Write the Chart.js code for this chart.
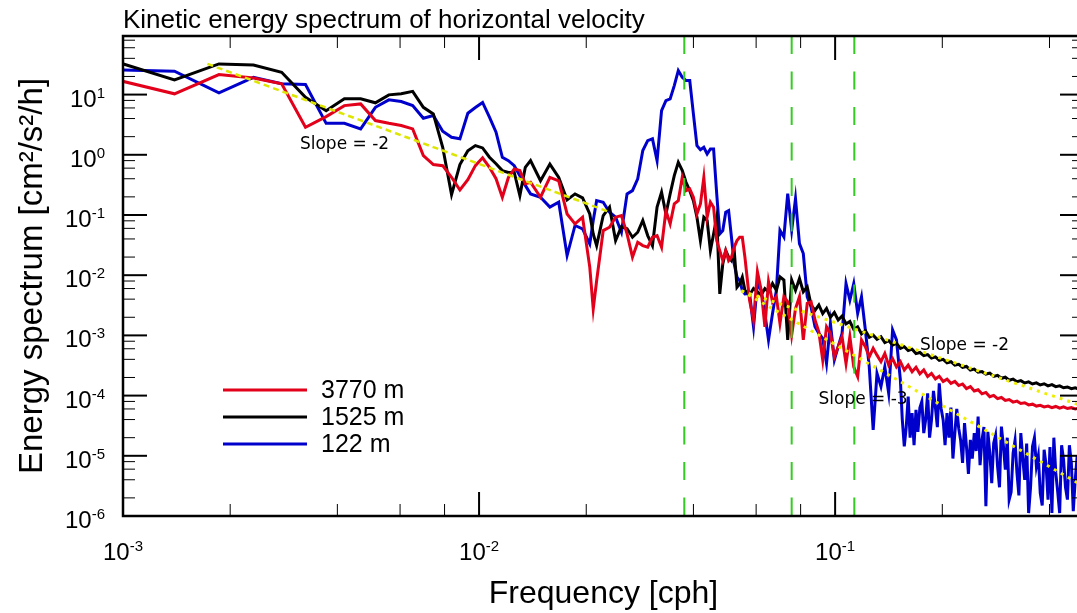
<!DOCTYPE html>
<html>
<head>
<meta charset="utf-8">
<title>Kinetic energy spectrum of horizontal velocity</title>
<script src="https://cdn.jsdelivr.net/npm/chart.js@4.4.1/dist/chart.umd.min.js"></script>
<style>
  html, body { margin: 0; padding: 0; background: #fff; overflow: hidden; }
  #wrap { width: 1090px; height: 613px; }
</style>
</head>
<body>
<div id="wrap"><canvas id="spectrum" width="1090" height="613"></canvas></div>
<script>
"use strict";

// frequency of each spectral estimate [cph]
var freq = [
    0.00093, 0.001395, 0.00186, 0.002325, 0.00279, 0.003255, 0.00372, 0.004185, 0.00465, 0.005115,
    0.00558, 0.006045, 0.00651, 0.006975, 0.00744, 0.007905, 0.00837, 0.008835, 0.0093, 0.009765,
    0.01023, 0.010695, 0.01116, 0.011625, 0.01209, 0.012555, 0.01302, 0.013485, 0.01395,
    0.01488, 0.01581, 0.01674, 0.01767, 0.0186, 0.01953, 0.02046, 0.020925,
    0.02139, 0.02232, 0.02325, 0.02418, 0.02511, 0.02604, 0.02697, 0.0279, 0.02883, 0.02976,
    0.03069, 0.03162, 0.03255, 0.03348, 0.03441, 0.03534, 0.03627, 0.0372, 0.03813, 0.03906,
    0.03999, 0.04092, 0.04185, 0.04278, 0.04371, 0.04464, 0.04557, 0.0465, 0.04743, 0.04836,
    0.04929, 0.05022, 0.05115, 0.05208, 0.05301, 0.05394, 0.05487, 0.0558,
    0.0575, 0.059, 0.0605, 0.062, 0.0635, 0.065, 0.0667, 0.0684, 0.07, 0.0718,
    0.0736, 0.0755, 0.0774, 0.0794, 0.0814, 0.0835, 0.0856, 0.0878, 0.09, 0.0923,
    0.0946, 0.097, 0.0995, 0.102, 0.1046, 0.1073, 0.11, 0.1128, 0.1157, 0.1186,
    0.1216, 0.1247, 0.1279, 0.1311, 0.1345, 0.1379, 0.1414, 0.145, 0.1487, 0.1525,
    0.1564, 0.1604, 0.1645, 0.1687, 0.173, 0.1774, 0.1819, 0.1865, 0.1913, 0.1961,
    0.2011, 0.2062, 0.2115, 0.2169, 0.2224, 0.228, 0.2338, 0.2398, 0.2459, 0.2521,
    0.2585, 0.2651, 0.2719, 0.2788, 0.2859, 0.2931, 0.3006, 0.3082, 0.3161, 0.3241,
    0.3323, 0.3408, 0.3495, 0.3584, 0.3675, 0.3768, 0.3864, 0.3962, 0.4063, 0.4166,
    0.4272, 0.4381, 0.4492, 0.4607, 0.4724, 0.4844, 0.4967
];

// spectra [cm2/s2/h] at 3770 m, 1525 m and 122 m
var spec3770 = [
    18.4, 10.3, 21.5, 18.9, 15.1, 2.86, 4.31, 6.56, 7.0, 3.70,
    3.33, 3.06, 2.69, 0.97, 0.687, 0.66, 0.423, 0.26, 0.387, 0.66,
    0.89, 0.62, 0.40, 0.197, 0.42, 0.58, 0.55, 0.33, 0.35,
    0.197, 0.42, 0.37, 0.104, 0.071, 0.092, 0.0136, 0.00275,
    0.0081, 0.0551, 0.0626, 0.092, 0.098, 0.0485, 0.0199, 0.0353, 0.031, 0.0291,
    0.0427, 0.0455, 0.0291, 0.118, 0.071, 0.153, 0.173, 0.42, 0.254, 0.27,
    0.197, 0.104, 0.153, 0.42, 0.092, 0.163, 0.135, 0.0376, 0.0256, 0.0175,
    0.0256, 0.0175, 0.0199, 0.0291, 0.0376, 0.0427, 0.0427, 0.02,
    3.85e-3, 1.8e-3, 1.14e-2, 5.6e-3, 1.39e-3, 7.8e-3, 3.6e-3, 4.4e-3, 1.58e-3, 4.4e-3,
    3.6e-3, 1.01e-3, 2.8e-3, 4.4e-3, 8.4e-4, 3.4e-3, 3.6e-3, 1.8e-3, 1.15e-3, 3.9e-4,
    1.39e-3, 1.08e-3, 4.4e-4, 6.5e-4, 9.5e-4, 3.4e-4, 9.5e-4, 3.0e-4, 2.07e-4, 8.4e-4,
    6.5e-4, 4.4e-4, 6.1e-4, 4.7e-4, 3.66e-4, 5.0e-4, 3.2e-4, 4.1e-4, 3.0e-4, 3.66e-4,
    2.66e-4, 3.2e-4, 2.5e-4, 2.95e-4, 2.3e-4, 2.66e-4, 2.07e-4, 2.34e-4, 1.9e-4, 2.1e-4,
    1.72e-4, 1.88e-4, 1.6e-4, 1.72e-4, 1.47e-4, 1.56e-4, 1.31e-4, 1.41e-4, 1.19e-4, 1.25e-4,
    1.07e-4, 1.13e-4, 9.6e-5, 1.01e-4, 8.9e-5, 9.3e-5, 8.3e-5, 8.6e-5, 7.8e-5, 8.1e-5,
    7.4e-5, 7.6e-5, 7.0e-5, 7.2e-5, 6.7e-5, 6.9e-5, 6.5e-5, 6.7e-5, 6.3e-5, 6.6e-5,
    6.2e-5, 6.5e-5, 6.1e-5, 6.3e-5, 6.0e-5, 6.2e-5, 6.0e-5
];

var spec1525 = [
    37, 17.5, 32.3, 31, 23.5, 9.0, 5.4, 8.5, 8.5, 7.3,
    9.9, 10.3, 11.3, 6.15, 4.77, 1.33, 0.218, 0.687, 1.17, 1.42,
    1.30, 0.91, 0.71, 0.546, 0.51, 0.51, 0.21, 0.62, 0.80,
    0.37, 0.70, 0.42, 0.178, 0.224, 0.192, 0.104, 0.0485,
    0.031, 0.098, 0.135, 0.0376, 0.064, 0.059, 0.0427, 0.0517, 0.081, 0.0455,
    0.031, 0.135, 0.239, 0.104, 0.224, 0.45, 0.75, 0.55, 0.35, 0.254,
    0.173, 0.092, 0.0376, 0.092, 0.081, 0.0256, 0.0485, 0.092, 0.0049, 0.0154,
    0.0256, 0.0199, 0.0175, 0.0256, 0.0063, 0.0072, 0.0093, 0.0056,
    4.7e-3, 6.0e-3, 5.3e-3, 4.7e-3, 6.0e-3, 5.3e-3, 7.3e-3, 5.6e-3, 9.4e-3, 8.3e-3,
    8.4e-4, 8.3e-3, 5.6e-3, 8.8e-3, 5.3e-3, 6.4e-3, 3.2e-3, 2.6e-3, 3.2e-3, 2.3e-3,
    2.8e-3, 2.0e-3, 2.4e-3, 1.8e-3, 2.1e-3, 1.55e-3, 1.7e-3, 1.26e-3, 1.39e-3, 1.06e-3,
    1.2e-3, 9.3e-4, 1.01e-3, 8.6e-4, 9.5e-4, 7.6e-4, 8.2e-4, 6.9e-4, 7.4e-4, 6.1e-4,
    6.5e-4, 5.6e-4, 5.9e-4, 5.0e-4, 5.2e-4, 4.6e-4, 4.8e-4, 4.2e-4, 4.4e-4, 3.85e-4,
    4.0e-4, 3.5e-4, 3.65e-4, 3.2e-4, 3.3e-4, 2.95e-4, 3.05e-4, 2.66e-4, 2.75e-4, 2.45e-4,
    2.5e-4, 2.28e-4, 2.36e-4, 2.08e-4, 2.17e-4, 1.94e-4, 2.02e-4, 1.8e-4, 1.88e-4, 1.7e-4,
    1.77e-4, 1.62e-4, 1.69e-4, 1.56e-4, 1.63e-4, 1.5e-4, 1.57e-4, 1.45e-4, 1.52e-4, 1.41e-4,
    1.45e-4, 1.35e-4, 1.39e-4, 1.3e-4, 1.35e-4, 1.28e-4, 1.31e-4
];

var spec122 = [
    26, 24.4, 10.7, 19.4, 15.1, 14.7, 3.33, 3.33, 2.69, 6.15,
    8.17, 7.65, 6.56, 4.04, 4.48, 2.46, 1.95, 1.84, 4.9, 6.1,
    7.4, 4.21, 2.37, 0.91, 0.80, 0.66, 0.45, 0.31, 0.224,
    0.197, 0.135, 0.163, 0.0212, 0.067, 0.059, 0.033, 0.081,
    0.173, 0.163, 0.111, 0.092, 0.0517, 0.224, 0.254, 0.40, 1.18, 1.72,
    1.84, 0.80, 5.42, 7.95, 8.47, 14.1, 25.1, 19.4, 17.1, 17.1,
    4.78, 1.42, 1.21, 1.33, 1.03, 1.25, 1.25, 0.224, 0.0485, 0.0551,
    0.111, 0.118, 0.0427, 0.0154, 0.0093, 0.0081, 0.0056, 0.0049,
    4.97e-3, 1.39e-3, 7.3e-3, 5.6e-3, 2.3e-3, 8.4e-4, 2.3e-3, 5.6e-3, 5.57e-2, 4.31e-2,
    0.226, 5.57e-2, 0.187, 3.35e-2, 2.29e-2, 4.37e-3, 2.98e-3, 1.39e-3, 1.08e-3, 8.9e-4,
    3.44e-4, 1.58e-3, 3.9e-4, 6.5e-4, 1.08e-3, 7.27e-3, 3.85e-3, 7.27e-3, 2.32e-3, 4.37e-3,
    1.23e-3, 3.0e-4, 2.7e-5, 2.34e-4, 1.41e-4, 3.0e-4, 1.09e-4, 1.23e-3, 8.4e-4, 1.82e-4,
    1.43e-5, 9.6e-5, 5.1e-5, 5.8e-5, 6.3e-5, 2.38e-5, 1.09e-4, 3.95e-5, 6.3e-5, 1.6e-4,
    3.95e-5, 5.1e-5, 6.3e-5, 2.38e-5, 2.85e-5, 7.6e-6, 1.43e-5, 1.84e-5, 2.38e-5, 4.5e-5,
    1.84e-5, 1.45e-6, 1.11e-5, 1.62e-5, 6.7e-6, 3.06e-5, 5.9e-6, 1.87e-6, 1.11e-5, 5.2e-6,
    2.38e-5, 4.0e-6, 1.12e-6, 1.43e-5, 6.7e-6, 2.4e-6, 1.26e-5, 1.87e-6, 1.12e-6, 5.2e-6,
    1.12e-6, 8.6e-6, 1.87e-6, 7.6e-6, 4.0e-6, 2.1e-6, 5.9e-6
];

// extra 122 m estimates between the grid above, where that record is densest
var freq122Extra = [
    0.1544, 0.1584, 0.1624, 0.1666, 0.1708, 0.1752, 0.1796, 0.1842, 0.1889, 0.1937,
    0.1986, 0.2036, 0.2088, 0.2142, 0.2196, 0.2252, 0.2309, 0.2368, 0.2428, 0.249,
    0.2553, 0.2618, 0.2685, 0.2753, 0.2823, 0.2895, 0.2968, 0.3044, 0.3121, 0.3201,
    0.3282, 0.3365, 0.3451, 0.3539, 0.3629, 0.3721, 0.3816, 0.3913, 0.4012, 0.4114,
    0.4219, 0.4326, 0.4436, 0.4549, 0.4665, 0.4784, 0.4905
];
var spec122Extra = [
    4.0e-5, 3.0e-5, 2.0e-5, 1.5e-5, 2.5e-5, 8.0e-5, 4.0e-5, 2.0e-5, 1.2e-4, 3.0e-5,
    6.0e-5, 1.5e-5, 2.0e-5, 9.0e-6, 6.0e-5, 1.8e-5, 3.5e-5, 5.0e-6, 9.0e-6, 1.2e-5,
    7.0e-6, 3.0e-5, 2.5e-5, 3.5e-6, 2.2e-5, 3.0e-6, 1.5e-5, 2.0e-5, 2.5e-6, 1.8e-5,
    2.2e-6, 9.0e-6, 1.6e-5, 3.0e-6, 2.0e-5, 1.0e-5, 1.5e-6, 7.0e-6, 1.4e-5, 2.0e-5,
    2.5e-6, 1.5e-5, 3.0e-6, 1.5e-5, 1.2e-6, 1.0e-5, 1.5e-6
];

// reference lines: [frequency, spectrum] end points
var slopeLow = [[1.726e-3, 32.4], [0.02334, 0.111]];
var slopeHigh2 = [[0.0545, 5.5e-3], [0.5, 6.6e-5]];
var slopeHigh3 = [[0.0545, 5.5e-3], [0.5, 3.1e-6]];
var markFreq = [0.0377, 0.0755, 0.1132];

var slopeNotes = [
    { text: 'Slope = -2', f: 3.14e-3, v: 1.48 },
    { text: 'Slope = -2', f: 0.173, v: 6.8e-4 },
    { text: 'Slope = -3', f: 0.0898, v: 8.6e-5 }
];

// axis ticks
var xMajor = [1e-3, 1e-2, 1e-1];
var xMinor = [2e-3, 4e-3, 6e-3, 8e-3, 2e-2, 4e-2, 6e-2, 8e-2, 0.2, 0.4];
var yMajor = [1e-6, 1e-5, 1e-4, 1e-3, 1e-2, 1e-1, 1, 10];
var yMinor = [];
yMajor.forEach(function (d) { [2, 4, 6, 8].forEach(function (m) { yMinor.push(d * m); }); });

var FONT = "'Liberation Sans', Arial, sans-serif";

function Exponent(v) {
    return String(Math.round(Math.log10(v)));
}

function Pairs(xs, ys) {
    return xs.map(function (f, i) { return { x: f, y: ys[i] }; });
}

function Segment(ends) {
    return ends.map(function (p) { return { x: p[0], y: p[1] }; });
}

var points122 = Pairs(freq, spec122).concat(Pairs(freq122Extra, spec122Extra))
    .sort(function (p, q) { return p.x - q.x; });

var datasets = [
    { label: '3770 m', data: Pairs(freq, spec3770), borderColor: '#e2001a', borderWidth: 3, order: 1 },
    { label: '1525 m', data: Pairs(freq, spec1525), borderColor: '#000000', borderWidth: 3, order: 2 },
    { label: '122 m', data: points122, borderColor: '#0000cc', borderWidth: 3, order: 3 },
    { data: Segment(slopeLow), borderColor: '#dde600', borderWidth: 2.5, borderDash: [6, 4], order: 0 },
    { data: Segment(slopeHigh2), borderColor: '#eeee00', borderWidth: 3, borderDash: [3, 5], order: 0 },
    { data: Segment(slopeHigh3), borderColor: '#eeee00', borderWidth: 3, borderDash: [3, 5], order: 0 }
];
markFreq.forEach(function (f) {
    datasets.push({ data: [{ x: f, y: 94 }, { x: f, y: 1e-6 }], borderColor: '#33cc22',
                    borderWidth: 2, borderDash: [18, 17.5], order: 0 });
});

// tick marks inside the frame, frame itself
var frame = {
    id: 'frame',
    afterDatasetsDraw: function (chart) {
        var ctx = chart.ctx, a = chart.chartArea, x = chart.scales.x, y = chart.scales.y;
        ctx.save();
        ctx.strokeStyle = '#000';
        function seg(x1, y1, x2, y2, w) {
            ctx.lineWidth = w;
            ctx.beginPath(); ctx.moveTo(x1, y1); ctx.lineTo(x2, y2); ctx.stroke();
        }
        xMinor.forEach(function (v) {
            var p = x.getPixelForValue(v);
            seg(p, a.bottom, p, a.bottom - 12, 1);
            seg(p, a.top, p, a.top + 12, 1);
        });
        xMajor.forEach(function (v) {
            var p = x.getPixelForValue(v);
            seg(p, a.bottom, p, a.bottom - 24, 2);
            seg(p, a.top, p, a.top + 24, 2);
        });
        yMinor.forEach(function (v) {
            var p = y.getPixelForValue(v);
            if (p < a.top) return;
            seg(a.left, p, a.left + 12, p, 1);
            seg(a.right, p, a.right - 12, p, 1);
        });
        yMajor.forEach(function (v) {
            var p = y.getPixelForValue(v);
            seg(a.left, p, a.left + 24, p, 2);
            seg(a.right, p, a.right - 24, p, 2);
        });
        ctx.lineWidth = 2.5;
        ctx.strokeRect(a.left, a.top, a.right - a.left, a.bottom - a.top);
        ctx.restore();
    }
};

// title, power-of-ten tick labels, legend and slope notes
var notes = {
    id: 'notes',
    afterDraw: function (chart) {
        var ctx = chart.ctx, a = chart.chartArea, x = chart.scales.x, y = chart.scales.y;
        ctx.save();
        ctx.fillStyle = '#000';
        ctx.textAlign = 'left';
        ctx.textBaseline = 'alphabetic';
        ctx.font = '26px ' + FONT;
        ctx.fillText('Kinetic energy spectrum of horizontal velocity', a.left, 28);

        function power(v, px, base, align) {
            var e = Exponent(v);
            ctx.font = '24px ' + FONT;
            var w10 = ctx.measureText('10').width;
            ctx.font = '15px ' + FONT;
            var we = ctx.measureText(e).width;
            var sx = align === 'center' ? px - (w10 + we) / 2 : px - w10 - we;
            ctx.font = '24px ' + FONT;
            ctx.fillText('10', sx, base);
            ctx.font = '15px ' + FONT;
            ctx.fillText(e, sx + w10, base - 9);
        }
        xMajor.forEach(function (v) { power(v, x.getPixelForValue(v), 560, 'center'); });
        yMajor.forEach(function (v) { power(v, a.left - 18, y.getPixelForValue(v) + 12, 'right'); });

        ctx.font = '17px "DejaVu Sans", sans-serif';
        ctx.textBaseline = 'middle';
        slopeNotes.forEach(function (n) {
            ctx.fillText(n.text, x.getPixelForValue(n.f), y.getPixelForValue(n.v));
        });

        ctx.font = '25px ' + FONT;
        chart.data.datasets.slice(0, 3).forEach(function (ds, i) {
            var ly = a.top + 354 + i * 27;
            ctx.strokeStyle = ds.borderColor;
            ctx.lineWidth = 3;
            ctx.beginPath(); ctx.moveTo(a.left + 100, ly); ctx.lineTo(a.left + 184, ly); ctx.stroke();
            ctx.fillText(ds.label, a.left + 198, ly + 1);
        });
        ctx.restore();
    }
};

new Chart(document.getElementById('spectrum'), {
    type: 'line',
    data: { datasets: datasets },
    options: {
        responsive: false,
        devicePixelRatio: 1,
        animation: false,
        layout: { padding: { top: 36, right: 6, left: 0, bottom: 0 } },
        elements: { point: { radius: 0 }, line: { tension: 0, fill: false } },
        plugins: { legend: { display: false }, tooltip: { enabled: false }, title: { display: false } },
        scales: {
            x: {
                type: 'logarithmic', min: 1e-3, max: 0.5,
                grid: { display: false, drawTicks: false }, border: { display: false },
                afterBuildTicks: function (s) { s.ticks = xMajor.map(function (v) { return { value: v }; }); },
                afterFit: function (s) { s.height = 97; },
                ticks: { display: false },
                title: { display: true, text: 'Frequency [cph]', color: '#000',
                         font: { family: FONT, size: 32 }, padding: { top: 0, bottom: 0 } }
            },
            y: {
                type: 'logarithmic', min: 1e-6, max: 94,
                grid: { display: false, drawTicks: false }, border: { display: false },
                afterBuildTicks: function (s) { s.ticks = yMajor.map(function (v) { return { value: v }; }); },
                afterFit: function (s) { s.width = 123; },
                ticks: { display: false },
                title: { display: true, text: 'Energy spectrum [cm\u00B2/s\u00B2/h]', color: '#000',
                         font: { family: FONT, size: 33 }, padding: { top: 13, bottom: 0 } }
            }
        }
    },
    plugins: [frame, notes]
});
</script>
</body>
</html>
